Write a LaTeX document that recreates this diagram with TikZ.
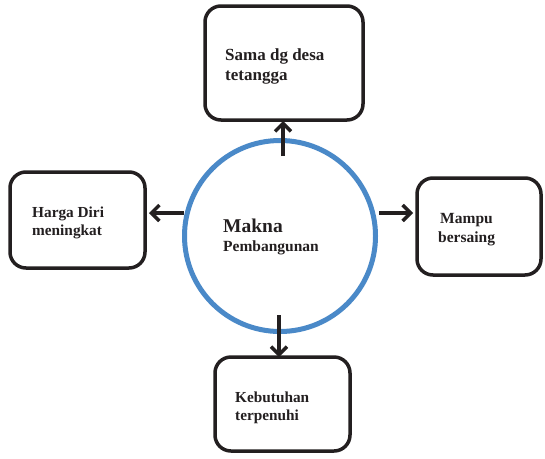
\documentclass[tikz,border=0pt]{standalone}
\usepackage{fontspec}
\setmainfont{Liberation Serif}
\usetikzlibrary{arrows.meta}
\definecolor{ink}{HTML}{231F20}
\definecolor{ringblue}{HTML}{4A89C8}
\begin{document}
\begin{tikzpicture}[x=1pt,y=-1pt,
  box/.style={draw=ink,line width=3.5pt,rounded corners=16pt,fill=white,inner sep=0pt},
  lbl/.style={anchor=base west,inner sep=0pt,text=ink,font=\bfseries\fontsize{15.3}{20}\selectfont,align=left},
  arr/.style={draw=ink,line width=3.5pt,-{Straight Barb[length=8pt,width=16pt,line width=3.5pt]}}]
\useasboundingbox (0,0) rectangle (545,458);
\fill[white] (0,0) rectangle (545,458);
\node[draw=ringblue,line width=5pt,circle,minimum size=191pt,inner sep=0pt] (circ) at (280,236) {};
\node[box,minimum width=158pt,minimum height=114pt] (top) at (284,63) {};
\node[box,minimum width=135pt,minimum height=96pt] (left) at (77.5,220) {};
\node[box,minimum width=124pt,minimum height=97pt] (right) at (479,226.5) {};
\node[box,minimum width=135pt,minimum height=94pt] (bottom) at (282.5,404) {};
\node[lbl,font=\bfseries\fontsize{17}{20}\selectfont] (ttop) at (225,80) {Sama dg desa\\tetangga};
\node[lbl,font=\bfseries\fontsize{15.3}{18}\selectfont] (tleft) at (32,235) {Harga Diri\\meningkat};
\node[lbl,font=\bfseries\fontsize{15.5}{19}\selectfont] (tright) at (438,242) {\hspace*{2pt}Mampu\\bersaing};
\node[lbl,font=\bfseries\fontsize{15.3}{18}\selectfont] (tbottom) at (235,420) {Kebutuhan\\terpenuhi};
\node[lbl,font=\bfseries\fontsize{19.5}{19}\selectfont] (tmakna) at (223,232) {Makna};
\node[lbl,font=\bfseries\fontsize{15.5}{19}\selectfont] (tpemb) at (223,251) {Pembangunan};
\coordinate (sTop) at (283,156);
\coordinate (eTop) at (283,121);
\coordinate (sLeft) at (184,213);
\coordinate (eLeft) at (149,213);
\coordinate (sRight) at (379,213);
\coordinate (eRight) at (413,213);
\coordinate (sBottom) at (279,315);
\coordinate (eBottom) at (279,357);
\draw[arr] (sTop) -- (eTop);
\draw[arr] (sLeft) -- (eLeft);
\draw[arr] (sRight) -- (eRight);
\draw[arr] (sBottom) -- (eBottom);
\end{tikzpicture}
\end{document}
